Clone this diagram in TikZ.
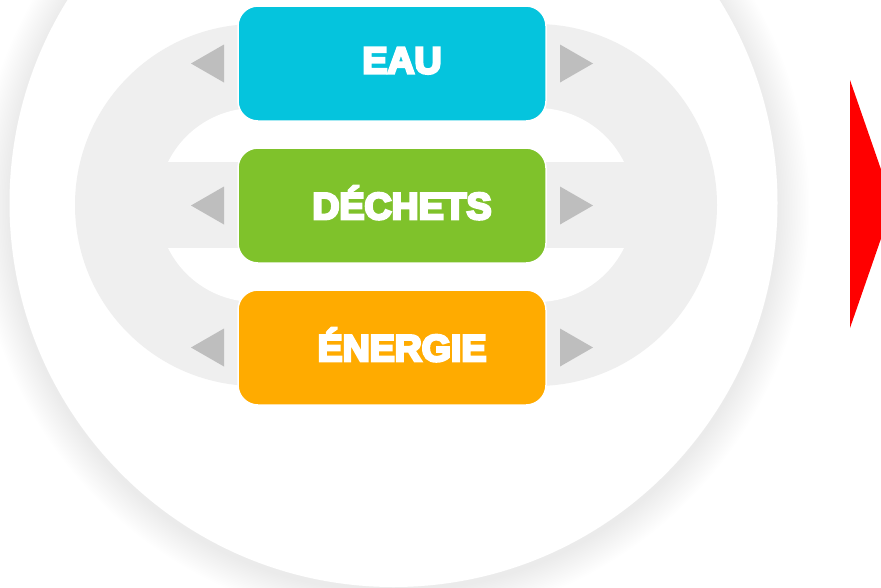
\documentclass[tikz,border=0pt]{standalone}
\usepackage{fontspec}
\newfontfamily\topicfont{Liberation Sans Bold}[FakeBold=7]
\usetikzlibrary{positioning}

\definecolor{eaucol}{HTML}{05C4DD}
\definecolor{dechetscol}{HTML}{7FC22B}
\definecolor{energiecol}{HTML}{FFAB00}
\definecolor{ringgray}{HTML}{EFEFEF}
\definecolor{pointergray}{HTML}{BEBEBE}

\tikzset{
  topic/.style={rectangle,rounded corners=20pt,fill=#1,draw=white,line width=1.5pt,
    minimum width=308pt,minimum height=115pt,inner sep=0pt,outer sep=0pt,
    text=white,font=\topicfont\fontsize{37.5}{37.5}\selectfont,text depth=6pt,
    execute at begin node=\hspace*{20pt}},
  pointer/.style={fill=pointergray}
}

\begin{document}
\begin{tikzpicture}[x=1pt,y=-1pt]
\useasboundingbox (0,0) rectangle (881,587);
\clip (0,0) rectangle (881,587);

% soft shadow and white disc
\foreach \i in {1,...,20}
  \fill[black,opacity=0.0045] (393.5,207) circle ({384+1.6*\i});
\fill[white] (393.5,203) circle (384);

% grey ring behind the boxes
\fill[ringgray,rounded corners=181pt] (75,24) rectangle (717,386);
\fill[white,rounded corners=97pt] (158,108) rectangle (634,302);
\fill[ringgray] (158,162) rectangle (634,248);

\node[topic=eaucol] (eau) at (392,63.5) {EAU};
\node[topic=dechetscol,below=27pt of eau] (dechets) {DÉCHETS};
\node[topic=energiecol,below=27pt of dechets] (energie) {ÉNERGIE};

\foreach \n in {eau,dechets,energie}{
  \fill[pointer] ([xshift=-14pt]\n.west) -- ++(0,-19) -- ++(-33,19) -- ++(33,19) -- cycle;
  \fill[pointer] ([xshift=14pt]\n.east) -- ++(0,-19) -- ++(33,19) -- ++(-33,19) -- cycle;
}

\fill[red] (850,80) -- (893,204) -- (850,328) -- cycle;
\end{tikzpicture}
\end{document}
